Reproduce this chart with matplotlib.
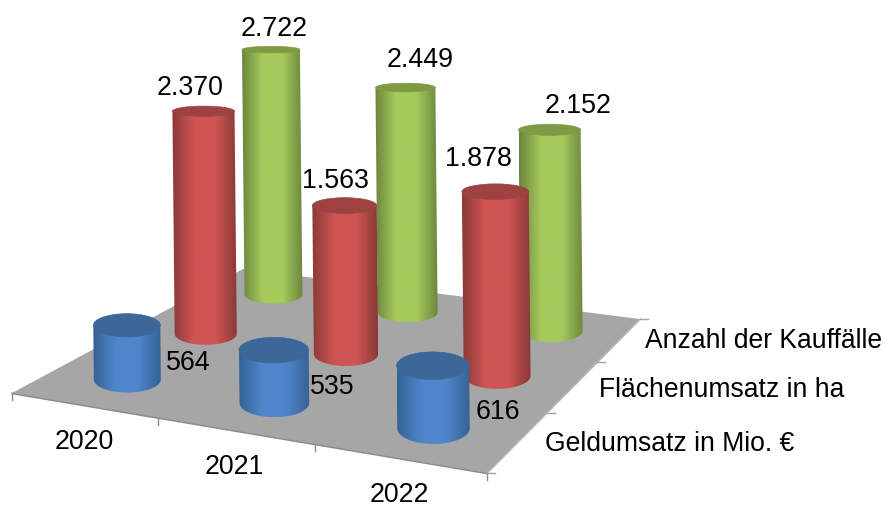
import numpy as np
import matplotlib
matplotlib.use("Agg")
import matplotlib.pyplot as plt
from matplotlib.colors import LinearSegmentedColormap
from matplotlib.path import Path
from matplotlib.patches import PathPatch, Polygon, Ellipse

plt.rcParams['font.family'] = ['Liberation Sans', 'DejaVu Sans']

# data
years = ['2020', '2021', '2022']
series = ['Geldumsatz in Mio. €', 'Flächenumsatz in ha', 'Anzahl der Kauffälle']
geldumsatz = [564, 535, 616]
flaechenumsatz = [2370, 1563, 1878]
kauffaelle = [2722, 2449, 2152]
values = [geldumsatz, flaechenumsatz, kauffaelle]

# side, middle, top colour per series
colors = [('#356294', '#4f86cb', '#3c6799'),
          ('#8a3a38', '#cf5553', '#9d4240'),
          ('#6b863c', '#a5ca5c', '#7e9a44')]

# label offsets from the top of each cylinder, per series
label_dx = [[61, 58, 65], [-13, -9, -17], [3, 15, 28]]
label_dy = [[38, 37, 46], [-23, -25, -33], [-21, -28, -24]]

# floor corners in pixels: left, front, right, back
src = np.array([[0, 0], [3, 0], [3, 3], [0, 3]], float)
dst = np.array([[12, 393], [487, 473], [640, 319], [243, 269]], float)

A = []
b = []
for (u, v), (x, y) in zip(src, dst):
    A.append([u, v, 1, 0, 0, 0, -u * x, -v * x])
    A.append([0, 0, 0, u, v, 1, -u * y, -v * y])
    b += [x, y]
H = np.append(np.linalg.solve(np.array(A), np.array(b)), 1).reshape(3, 3)


def floor(u, v):
    p = H @ np.array([u, v, 1.0])
    return p[0] / p[2], p[1] / p[2], p[2]


def flat(y):
    # ellipses get rounder further below the eye level
    return 0.07 + 0.00085 * y


_, _, w0 = floor(0.5, 0.5)
R0 = 33.5

fig = plt.figure(figsize=(8.85, 5.07), dpi=100)
ax = fig.add_axes([0, 0, 1, 1])
ax.axis('off')

# floor
ax.add_patch(Polygon(dst, closed=True, fc='#a6a6a6', ec='none', zorder=1))
ax.plot(dst[:2, 0], dst[:2, 1] + 0.5, color='#8c8c8c', lw=1.2, zorder=2)
ax.plot(dst[1:3, 0] + 0.5, dst[1:3, 1], color='#b5b5b5', lw=1, zorder=2)
for i in range(4):
    x, y, _ = floor(i, 0)
    ax.plot([x, x], [y, y + 7], color='#8c8c8c', lw=1, zorder=2)
for j in range(4):
    x, y, _ = floor(3, j)
    ax.plot([x, x + 8], [y, y], color='#a0a0a0', lw=1, zorder=2)

zo = 3
for j in [2, 1, 0]:
    cmap = LinearSegmentedColormap.from_list('c', [colors[j][0], colors[j][1], colors[j][1], colors[j][0]])
    for i in range(3):
        bx, by, w = floor(0.5 + i * (1 + 0.011 * j), j + 0.5)
        r = R0 * w0 / w
        v = values[j][i]
        # taller tops come closer to the camera, so the scale grows a little with height
        h = v * 0.094 * (r / 33) ** 0.7 * (1 + 0.000018 * v)
        tx, ty = bx - 0.01 * h, by - h
        rb, rt = r * flat(by), r * flat(ty)

        # body outline: left side, lower half of the base, right side, back over the top
        t = np.linspace(np.pi, 0, 40)
        low = np.c_[bx + r * np.cos(t), by + rb * np.sin(t)]
        verts = np.vstack([[[tx - r, ty]], low, [[tx + r, ty]], [[tx - r, ty]]])
        body = PathPatch(Path(verts), fc='none', ec='none', transform=ax.transData)
        ax.add_patch(body)
        grad = np.linspace(0, 1, 128).reshape(1, -1)
        im = ax.imshow(grad, cmap=cmap, aspect='auto', zorder=zo,
                       extent=[min(bx, tx) - r, max(bx, tx) + r, by + rb, ty])
        im.set_clip_path(body)
        ax.add_patch(Ellipse((tx, ty), 2 * r, 2 * rt, fc=colors[j][2], ec=colors[j][2], lw=0.5, zorder=zo + 0.5))
        zo += 1

        label = f'{v:,}'.replace(',', '.')
        ax.text(tx + label_dx[j][i], ty + label_dy[j][i], label, fontsize=19.3, color='black',
                ha='center', va='center', zorder=50)

# axis labels
year_x = [84, 234, 399]
year_y = [442, 467, 495]
for name, x, y in zip(years, year_x, year_y):
    ax.text(x, y, name, fontsize=19.3, ha='center', va='center')
series_x = [545, 599, 645]
series_y = [444, 390, 341]
for name, x, y in zip(series, series_x, series_y):
    ax.text(x, y, name, fontsize=19.1, ha='left', va='center')

ax.set_xlim(0, 885)
ax.set_ylim(507, 0)
fig.savefig('out.png', dpi=100)
